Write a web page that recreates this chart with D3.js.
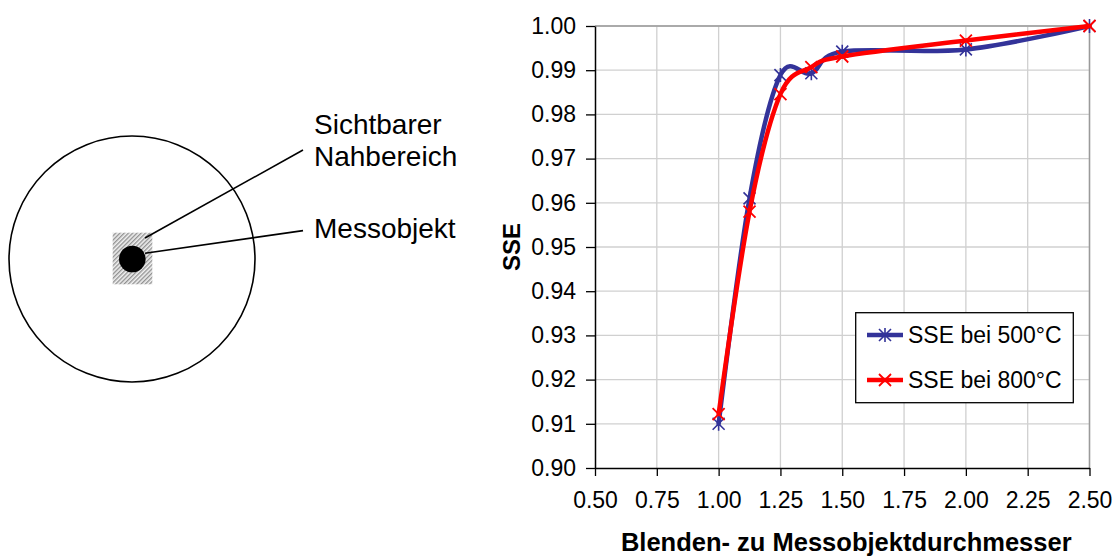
<!DOCTYPE html>
<html>
<head>
<meta charset="utf-8">
<script src="https://cdn.jsdelivr.net/npm/d3@7"></script>
<style>
  html, body { margin: 0; padding: 0; background: #fff; }
  svg { display: block; font-family: Arial, "Liberation Sans", sans-serif; }
</style>
</head>
<body>
<svg id="fig" width="1119" height="557"></svg>
<script>
// Aperture-to-object diameter ratio and the measured SSE values
const ratios = [1.0, 1.125, 1.25, 1.375, 1.5, 2.0, 2.5];
const sse500 = [0.910, 0.961, 0.9889, 0.9893, 0.9942, 0.9947, 1.000];
const sse800 = [0.9122, 0.958, 0.9846, 0.9907, 0.9931, 0.9967, 1.000];
const seriesNames = ["SSE bei 500°C", "SSE bei 800°C"];
const xTicks = [0.5, 0.75, 1.0, 1.25, 1.5, 1.75, 2.0, 2.25, 2.5];
const yTicks = [0.90, 0.91, 0.92, 0.93, 0.94, 0.95, 0.96, 0.97, 0.98, 0.99, 1.00];
const sketchLabels = ["Sichtbarer", "Nahbereich", "Messobjekt"];

const svg = d3.select("#fig");

// ---------- Sketch: aperture circle, visible near field, target ----------
const sk = svg.append("g");
const defs = svg.append("defs");
const pat = defs.append("pattern")
  .attr("id", "hatch").attr("patternUnits", "userSpaceOnUse")
  .attr("width", 3).attr("height", 3)
  .attr("patternTransform", "rotate(45)");
pat.append("rect").attr("width", 3).attr("height", 3).attr("fill", "#f2f2f2");
pat.append("line").attr("x1", 0.75).attr("y1", 0).attr("x2", 0.75).attr("y2", 3)
  .attr("stroke", "#7a7a7a").attr("stroke-width", 1.1);

sk.append("circle").attr("cx", 132).attr("cy", 259).attr("r", 123)
  .attr("fill", "none").attr("stroke", "#000").attr("stroke-width", 1.6);
sk.append("rect").attr("x", 112.7).attr("y", 232.7).attr("width", 39.6).attr("height", 51.6)
  .attr("fill", "url(#hatch)");
sk.append("circle").attr("cx", 132.3).attr("cy", 259).attr("r", 13.3).attr("fill", "#000");
sk.append("line").attr("x1", 145).attr("y1", 238).attr("x2", 303).attr("y2", 150)
  .attr("stroke", "#000").attr("stroke-width", 1.6);
sk.append("line").attr("x1", 145).attr("y1", 253.3).attr("x2", 303).attr("y2", 230.6)
  .attr("stroke", "#000").attr("stroke-width", 1.6);
const skText = sk.append("g").attr("font-size", 28).attr("fill", "#000");
[[sketchLabels[0], 134], [sketchLabels[1], 166], [sketchLabels[2], 238]].forEach(([t, yy]) => {
  skText.append("text").attr("x", 314).attr("y", yy).text(t);
});

// ---------- Chart ----------
const plotL = 595, plotR = 1089.5, plotT = 26, plotB = 468;
const x = d3.scaleLinear().domain([0.5, 2.5]).range([plotL, plotR]);
const y = d3.scaleLinear().domain([0.90, 1.00]).range([plotB, plotT]);

const plot = svg.append("g");

// grid
plot.append("g").selectAll("line").data(xTicks.slice(1)).join("line")
  .attr("x1", d => x(d)).attr("x2", d => x(d)).attr("y1", plotT).attr("y2", plotB)
  .attr("stroke", "#d0d0d0").attr("stroke-width", 1.3);
plot.append("g").selectAll("line").data(yTicks.slice(1)).join("line")
  .attr("x1", plotL).attr("x2", plotR).attr("y1", d => y(d)).attr("y2", d => y(d))
  .attr("stroke", "#d0d0d0").attr("stroke-width", 1.3);
// frame top / right
plot.append("line").attr("x1", plotL).attr("x2", plotR).attr("y1", plotT).attr("y2", plotT)
  .attr("stroke", "#9a9a9a").attr("stroke-width", 1.5);
plot.append("line").attr("x1", plotR).attr("x2", plotR).attr("y1", plotT).attr("y2", plotB)
  .attr("stroke", "#9a9a9a").attr("stroke-width", 1.5);

// axes
const xAxis = d3.axisBottom(x).tickValues(xTicks).tickFormat(d3.format(".2f"))
  .tickSizeInner(8).tickSizeOuter(0).tickPadding(16);
const yAxis = d3.axisLeft(y).tickValues(yTicks).tickFormat(d3.format(".2f"))
  .tickSizeInner(9).tickSizeOuter(0).tickPadding(10);
const gx = svg.append("g").attr("transform", `translate(0,${plotB})`).call(xAxis);
const gy = svg.append("g").attr("transform", `translate(${plotL},0)`).call(yAxis);
[gx, gy].forEach(g => {
  g.selectAll("path").attr("stroke", "#000").attr("stroke-width", 1.5);
  g.selectAll("line").attr("stroke", "#000").attr("stroke-width", 1.3);
  g.selectAll("text").attr("font-size", 23).attr("fill", "#000")
    .attr("font-family", "Arial, 'Liberation Sans', sans-serif");
});

// axis titles
svg.append("text").attr("x", (plotL + plotR) / 2 + 4).attr("y", 551)
  .attr("text-anchor", "middle").attr("font-size", 25.5).attr("font-weight", "bold")
  .text("Blenden- zu Messobjektdurchmesser");
svg.append("text").attr("transform", `translate(520,${(plotT + plotB) / 2}) rotate(-90)`)
  .attr("text-anchor", "middle").attr("font-size", 24).attr("font-weight", "bold")
  .text("SSE");

// series
const colors = ["#333399", "#ff0000"];
const line = d3.line().x(d => x(d[0])).y(d => y(d[1])).curve(d3.curveCardinal.tension(0));

function starMarker(g, cx, cy, s, color) {
  const h = s / 2;
  g.append("path")
    .attr("d", `M${cx - h},${cy - h}L${cx + h},${cy + h}M${cx - h},${cy + h}L${cx + h},${cy - h}M${cx},${cy - h - 1}L${cx},${cy + h + 1}`)
    .attr("stroke", color).attr("stroke-width", 1.6).attr("fill", "none");
}
function crossMarker(g, cx, cy, s, color) {
  const h = s / 2;
  g.append("path")
    .attr("d", `M${cx - h},${cy - h}L${cx + h},${cy + h}M${cx - h},${cy + h}L${cx + h},${cy - h}`)
    .attr("stroke", color).attr("stroke-width", 1.8).attr("fill", "none");
}
const markers = [starMarker, crossMarker];

[sse500, sse800].forEach((vals, i) => {
  const pts = ratios.map((r, k) => [r, vals[k]]);
  const g = plot.append("g");
  g.append("path").attr("d", line(pts)).attr("fill", "none")
    .attr("stroke", colors[i]).attr("stroke-width", 4.5)
    .attr("stroke-linejoin", "round").attr("stroke-linecap", "round");
  pts.forEach(p => markers[i](g, x(p[0]), y(p[1]), 12, colors[i]));
});

// legend
const lg = svg.append("g");
lg.append("rect").attr("x", 855.7).attr("y", 312.7).attr("width", 217.6).attr("height", 90)
  .attr("fill", "#fff").attr("stroke", "#000").attr("stroke-width", 1.3);
[335, 380].forEach((ly, i) => {
  lg.append("line").attr("x1", 867).attr("x2", 903).attr("y1", ly).attr("y2", ly)
    .attr("stroke", colors[i]).attr("stroke-width", 4.5);
  markers[i](lg, 885, ly, 12, colors[i]);
  lg.append("text").attr("x", 908).attr("y", ly + 8).attr("font-size", 23)
    .text(seriesNames[i]);
});
</script>
</body>
</html>
